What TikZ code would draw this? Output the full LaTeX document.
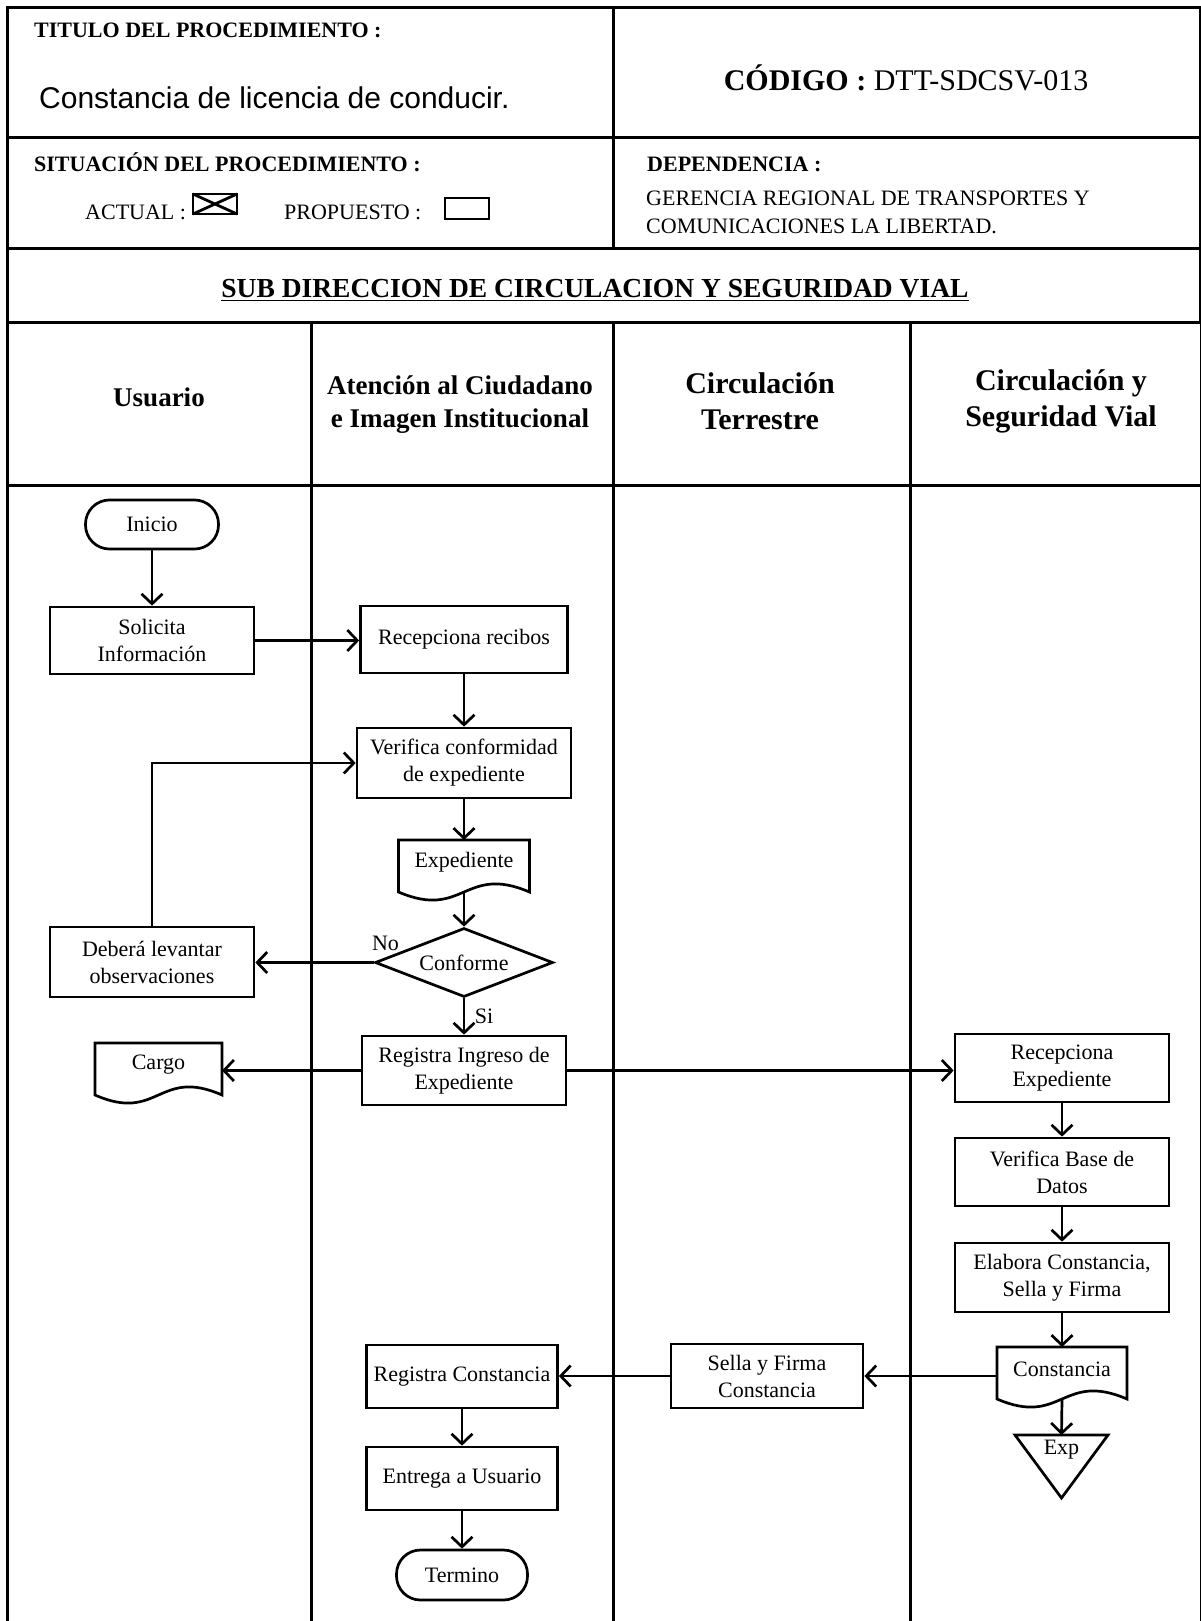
\documentclass[tikz,border=0pt]{standalone}
\usepackage{fontspec}
\setmainfont{Liberation Serif}
\newfontfamily\arialfont{Liberation Sans}
\usetikzlibrary{arrows.meta,calc,shapes.geometric}

% document symbol: flat top, straight sides, wavy bottom, drawn around a text node
\newcommand\docshape[2]{%
  \draw[shp] ($(#1.center)+(-#2/2,-22)$) -- ++(#2,0) -- ++(0,52)
    .. controls ($(#1.center)+(0,2)$) and ($(#1.center)+(0,58)$)
    .. ($(#1.center)+(-#2/2,30)$) -- cycle;
  \coordinate (#1-t) at ($(#1.center)+(0,-22)$);
  \coordinate (#1-b) at ($(#1.center)+(0,30)$);
  \coordinate (#1-l) at ($(#1.center)+(-#2/2,0)$);
  \coordinate (#1-r) at ($(#1.center)+(#2/2,0)$);
}

\begin{document}
\begin{tikzpicture}[x=1pt,y=-1pt,
  grid/.style={line width=3pt},
  shp/.style={draw,line width=2.7pt},
  box/.style={shp,rectangle,align=center,inner sep=0pt,font=\fontsize{22}{27}\selectfont},
  term/.style={box,rounded corners=24pt},
  lbl/.style={inner sep=0pt,align=center,font=\fontsize{22}{27}\selectfont},
  arr/.style={line width=2.7pt,-{Straight Barb[length=10pt,width=21pt]}},
  hdr/.style={inner sep=0pt,align=center,font=\bfseries\fontsize{27}{33}\selectfont},
  hdrb/.style={inner sep=0pt,align=center,font=\bfseries\fontsize{30}{36}\selectfont},
  small/.style={inner sep=0pt,anchor=west,font=\fontsize{22}{27}\selectfont},
  smallb/.style={inner sep=0pt,anchor=west,font=\bfseries\fontsize{22}{27}\selectfont},
]
\useasboundingbox (0,0) rectangle (1201,1621);

% ---- table frame ----
\draw[grid] (7,1621) -- (7,8) -- (1200,8) -- (1200,322.5);
\draw[grid] (7,137.5) -- (1200,137.5);
\draw[grid] (7,249) -- (1200,249);
\draw[grid] (613,8) -- (613,249);
\draw[grid] (7,322.5) -- (1201,322.5);
\draw[grid] (7,485) -- (1201,485);
\draw[grid] (311,322.5) -- (311,1621);
\draw[grid] (613,322.5) -- (613,1621);
\draw[grid] (910.5,322.5) -- (910.5,1621);
\draw[grid] (1201,322.5) -- (1201,1621);

% ---- header texts ----
\node[smallb] (titulo) at (34,30) {TITULO DEL PROCEDIMIENTO :};
\node[inner sep=0pt,anchor=west,font=\arialfont\fontsize{30}{36}\selectfont] (nombre) at (39,98) {Constancia de licencia de conducir.};
\node[inner sep=0pt,font=\fontsize{30}{36}\selectfont] (codigo) at (906,77.5) {\textbf{CÓDIGO :} DTT-SDCSV-013};
\node[smallb] (situacion) at (34,162) {SITUACIÓN DEL PROCEDIMIENTO :};
\node[small] (actual) at (85,212) {ACTUAL :};
\node[small] (propuesto) at (284,212) {PROPUESTO :};
\draw[line width=2.8pt] (193,194) rectangle (237,214);
\draw[line width=2.8pt] (193,194) -- (237,214) (193,214) -- (237,194);
\draw[line width=2.6pt] (445,198) rectangle (489,219);
\node[smallb] (dependencia) at (647,164) {DEPENDENCIA :};
\node[small] (gerencia1) at (646,198.5) {GERENCIA REGIONAL DE TRANSPORTES Y};
\node[small] (gerencia2) at (646,226) {COMUNICACIONES LA LIBERTAD.};
\node[inner sep=0pt,font=\bfseries\fontsize{27.5}{33}\selectfont] (subdir) at (595,290)
  {\underline{SUB DIRECCION DE CIRCULACION Y SEGURIDAD VIAL}};

% ---- lane headers ----
\node[hdr] (usuario) at (159,397) {Usuario};
\node[hdr] (atencion) at (460,405) {Atención al Ciudadano\\e Imagen Institucional};
\node[hdrb] (circ) at (760,401) {Circulación\\Terrestre};
\node[hdrb] (seg) at (1061,401) {Circulación y\\Seguridad Vial};

% ---- process nodes ----
\node[term,minimum width=133pt,minimum height=49pt] (inicio) at (152,524.5) {Inicio};
\node[box,minimum width=204pt,minimum height=67pt] (solicita) at (152,640.5) {Solicita\\Información};
\node[box,minimum width=207pt,minimum height=67pt] (recibos) at (464,639.5) {Recepciona recibos};
\node[box,minimum width=214pt,minimum height=70pt] (verifica) at (464,763) {Verifica conformidad\\de expediente};
\node[lbl] (exped) at (464,862) {Expediente};
\docshape{exped}{131}
\node[shp,diamond,aspect=2.58,inner sep=0pt,minimum width=178pt,minimum height=69pt,
      font=\fontsize{22}{27}\selectfont] (conf) at (464,962.5) {Conforme};
\node[box,minimum width=204pt,minimum height=70pt] (deberia) at (152,962) {Deberá levantar\\observaciones};
\node[lbl] (no) at (385.5,943) {No};
\node[lbl] (si) at (484,1016) {Si};
\node[box,minimum width=204pt,minimum height=69pt] (reging) at (464,1070.5) {Registra Ingreso de\\Expediente};
\node[lbl] (cargo) at (158.5,1065) {Cargo};
\docshape{cargo}{127}
\node[box,minimum width=214pt,minimum height=68pt] (recexp) at (1062,1068) {Recepciona\\Expediente};
\node[box,minimum width=214pt,minimum height=68pt] (verbd) at (1062,1172) {Verifica Base de\\Datos};
\node[box,minimum width=214pt,minimum height=69pt] (elabora) at (1062,1277.5) {Elabora Constancia,\\Sella y Firma};
\node[lbl] (const) at (1062,1369) {Constancia};
\docshape{const}{130}
\node[lbl] (exp) at (1061.5,1450) {Exp};
\draw[shp] ($(exp.center)+(-46.5,-15)$) -- ++(93,0) -- ($(exp.center)+(0,48)$) -- cycle;
\coordinate (exp-t) at ($(exp.center)+(0,-15)$);
\node[box,minimum width=192pt,minimum height=64pt] (sella) at (767,1376) {Sella y Firma\\Constancia};
\node[box,minimum width=191pt,minimum height=63pt] (regcon) at (462,1376.5) {Registra Constancia};
\node[box,minimum width=191pt,minimum height=63pt] (entrega) at (462,1478.5) {Entrega a Usuario};
\node[term,minimum width=131pt,minimum height=50pt] (termino) at (462,1575) {Termino};

% ---- connectors ----
\draw[arr] (inicio) -- (solicita);
\draw[arr] (solicita.east) -- (solicita.east -| recibos.west);
\draw[arr] (recibos) -- (verifica);
\draw[arr] (verifica) -- (exped-t);
\draw[arr] (exped-b) -- (conf.north);
\draw[arr] (conf.west) -- (conf.west -| deberia.east);
\draw[arr] (deberia.north) |- (verifica.west);
\draw[arr] (conf.south) -- (reging.north);
\draw[arr] (reging.west) -- (reging.west -| cargo-r);
\draw[arr] (reging.east) -- (reging.east -| recexp.west);
\draw[arr] (recexp) -- (verbd);
\draw[arr] (verbd) -- (elabora);
\draw[arr] (elabora.south) -- (const-t);
\draw[arr] (const-b) -- (exp-t);
\draw[arr] (sella.east -| const-l) -- (sella.east);
\draw[arr] (sella.west) -- (sella.west -| regcon.east);
\draw[arr] (regcon) -- (entrega);
\draw[arr] (entrega) -- (termino);
\end{tikzpicture}
\end{document}
